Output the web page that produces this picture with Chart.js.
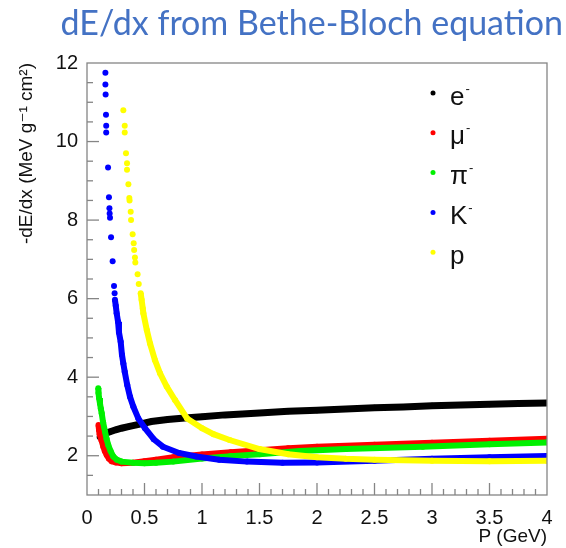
<!DOCTYPE html>
<html lang="en">
<head>
<meta charset="UTF-8" />
<title>dE/dx from Bethe-Bloch equation</title>
<script src="https://cdn.jsdelivr.net/npm/chart.js"></script>
<style>
  body { margin: 0; background: #fff; }
  .wrap { position: relative; width: 566px; height: 548px; }
  canvas { position: absolute; left: 0; top: 0; }
  .titulo {
    position: absolute; top: 0; right: 3px;
    font-family: Lato, "Open Sans", sans-serif; font-size: 34px;
    line-height: 44px; color: #4472c4; white-space: nowrap;
  }
</style>
</head>
<body>
<div class="wrap">
  <canvas id="grafico" width="566" height="548"></canvas>
  <div class="titulo">dE/dx from Bethe-Bloch equation</div>
</div>

<script>
// valores: momento P (GeV) e -dE/dx (MeV g^-1 cm^2)
const particulas = ["e", "\u03bc", "\u03c0", "K", "p"];
const cargas = ["-", "-", "-", "-", ""];
const cores = ["#000000", "#ff0000", "#00f000", "#0000ff", "#ffff00"];

const eP = [0.11, 0.13, 0.16, 0.2, 0.25, 0.3, 0.36, 0.45, 0.56, 0.7, 0.85, 1.0, 1.2, 1.5, 1.75, 2.0, 2.25, 2.5, 2.75, 3.0, 3.25, 3.5, 3.75, 4.0];
const eV = [2.48, 2.53, 2.57, 2.61, 2.66, 2.7, 2.74, 2.8, 2.87, 2.92, 2.96, 2.99, 3.04, 3.09, 3.13, 3.16, 3.19, 3.22, 3.24, 3.27, 3.29, 3.31, 3.33, 3.34];

const muP = [0.1, 0.105, 0.11, 0.125, 0.142, 0.155, 0.171, 0.19, 0.215, 0.25, 0.3, 0.4, 0.5, 0.6, 0.75, 1.0, 1.25, 1.5, 1.75, 2.0, 2.5, 3.0, 3.5, 4.0];
const muV = [2.78, 2.65, 2.55, 2.4, 2.23, 2.12, 2.02, 1.93, 1.86, 1.83, 1.81, 1.82, 1.86, 1.9, 1.96, 2.03, 2.09, 2.14, 2.19, 2.23, 2.28, 2.33, 2.38, 2.43];

const piP = [0.098, 0.1, 0.105, 0.113, 0.12, 0.128, 0.14, 0.157, 0.17, 0.185, 0.205, 0.229, 0.26, 0.3, 0.4, 0.5, 0.6, 0.75, 1.0, 1.25, 1.5, 1.85, 2.25, 2.92, 3.5, 4.0];
const piV = [3.72, 3.6, 3.47, 3.33, 3.2, 3.08, 2.85, 2.61, 2.43, 2.27, 2.12, 1.98, 1.9, 1.85, 1.82, 1.81, 1.82, 1.85, 1.93, 1.99, 2.04, 2.12, 2.17, 2.23, 2.29, 2.34];

const kP = [0.16, 0.16, 0.162, 0.165, 0.167, 0.167, 0.183, 0.191, 0.195, 0.197, 0.2, 0.209, 0.223, 0.235, 0.24, 0.243, 0.25, 0.258, 0.27, 0.278, 0.293, 0.304, 0.316, 0.328, 0.35, 0.374, 0.403, 0.446, 0.504, 0.58, 0.66, 0.8, 0.95, 1.15, 1.39, 1.7, 2.0, 2.5, 3.0, 3.5, 4.0];
const kV = [11.75, 11.45, 11.2, 10.68, 10.4, 10.23, 9.34, 8.58, 8.3, 8.17, 8.06, 7.56, 6.95, 6.32, 6.14, 5.97, 5.82, 5.63, 5.41, 5.14, 4.9, 4.57, 4.35, 4.14, 3.8, 3.5, 3.25, 2.95, 2.7, 2.42, 2.23, 2.07, 1.98, 1.9, 1.85, 1.82, 1.83, 1.87, 1.92, 1.96, 1.99];

const pP = [0.316, 0.328, 0.328, 0.339, 0.348, 0.348, 0.36, 0.368, 0.37, 0.38, 0.383, 0.397, 0.406, 0.41, 0.417, 0.42, 0.44, 0.45, 0.467, 0.475, 0.485, 0.49, 0.52, 0.548, 0.59, 0.635, 0.693, 0.765, 0.87, 1.0, 1.1, 1.24, 1.5, 1.75, 2.0, 2.25, 2.5, 3.0, 3.5, 4.0];
const pV = [10.8, 10.4, 10.23, 9.7, 9.45, 9.28, 8.91, 8.56, 8.5, 8.21, 8.0, 7.64, 7.41, 7.24, 7.05, 6.92, 6.62, 6.37, 6.14, 5.97, 5.75, 5.63, 5.2, 4.86, 4.44, 4.1, 3.76, 3.42, 2.95, 2.7, 2.55, 2.4, 2.17, 2.04, 1.96, 1.92, 1.9, 1.87, 1.86, 1.87];

const xTicks = [0, 0.5, 1, 1.5, 2, 2.5, 3, 3.5, 4];
const yTicks = [2, 4, 6, 8, 10, 12];

const fonte = "'Liberation Sans', Arial, 'DejaVu Sans', sans-serif";

// acima do corte os pontos ficam soltos, sem a linha
function serie(i, P, V, corte, largura) {
  const cor = cores[i];
  return {
    label: particulas[i] + cargas[i],
    data: P.map((p, k) => ({ x: p, y: V[k] })),
    showLine: true,
    borderColor: cor,
    borderWidth: largura,
    backgroundColor: cor,
    pointRadius: 3,
    pointBorderWidth: 0,
    pointHoverRadius: 3,
    order: 5 - i,
    segment: {
      borderColor: ctx => (ctx.p0.parsed.y > corte || ctx.p1.parsed.y > corte) ? "rgba(0,0,0,0)" : cor
    }
  };
}

// moldura do ROOT com marcas para dentro
const moldura = {
  id: "moldura",
  afterDraw(chart) {
    const ctx = chart.ctx;
    const a = chart.chartArea;
    const sx = chart.scales.x;
    const sy = chart.scales.y;
    ctx.save();
    ctx.strokeStyle = "#858585";
    ctx.lineWidth = 1.3;
    ctx.strokeRect(a.left, a.top, a.right - a.left, a.bottom - a.top);
    for (let k = 1; k < 40; k++) {
      const px = sx.getPixelForValue(k / 10);
      const len = k % 5 === 0 ? 12 : 6;
      ctx.beginPath();
      ctx.moveTo(px, a.bottom);
      ctx.lineTo(px, a.bottom - len);
      ctx.stroke();
    }
    for (let k = 3; k < 24; k++) {
      const py = sy.getPixelForValue(k / 2);
      const len = k % 4 === 0 ? 12 : 6;
      ctx.beginPath();
      ctx.moveTo(a.left, py);
      ctx.lineTo(a.left + len, py);
      ctx.stroke();
    }
    ctx.restore();
  }
};

// legenda dentro do quadro
const legenda = {
  id: "legenda",
  afterDraw(chart) {
    const ctx = chart.ctx;
    const a = chart.chartArea;
    ctx.save();
    particulas.forEach((nome, i) => {
      const y = a.top + 30 + 39.8 * i;
      const x = a.right - 114;
      ctx.fillStyle = cores[i];
      ctx.beginPath();
      ctx.arc(x, y, 2.5, 0, Math.PI * 2);
      ctx.fill();
      ctx.fillStyle = "#111";
      ctx.textBaseline = "alphabetic";
      ctx.textAlign = "left";
      ctx.font = "26px " + fonte;
      const base = y + 11.5;
      ctx.fillText(nome, x + 17, base);
      if (cargas[i]) {
        const w = ctx.measureText(nome).width;
        ctx.font = "13px " + fonte;
        ctx.fillText(cargas[i], x + 18 + w, base - 12);
      }
    });
    ctx.restore();
  }
};

const config = {
  type: "scatter",
  data: {
    datasets: [
      serie(0, eP, eV, 99, 7),
      serie(1, muP, muV, 99, 6),
      serie(2, piP, piV, 99, 6),
      serie(3, kP, kV, 6.0, 6),
      serie(4, pP, pV, 6.2, 6)
    ]
  },
  options: {
    responsive: false,
    animation: false,
    layout: { padding: { top: 63, right: 19, left: 0, bottom: 0 } },
    plugins: {
      legend: { display: false },
      tooltip: { enabled: false }
    },
    scales: {
      x: {
        type: "linear",
        min: 0,
        max: 4,
        grid: { display: false, drawTicks: false },
        border: { display: false },
        afterBuildTicks: s => { s.ticks = xTicks.map(v => ({ value: v })); },
        afterFit: s => { s.height = 53; },
        ticks: {
          padding: 11, color: "#111", font: { family: fonte, size: 20 },
          callback: v => String(v)
        },
        title: {
          display: true, text: "P (GeV)", align: "end", color: "#111",
          font: { family: fonte, size: 19 }, padding: { top: 0, bottom: 0 }
        }
      },
      y: {
        type: "linear",
        min: 1,
        max: 12,
        grid: { display: false, drawTicks: false },
        border: { display: false },
        afterBuildTicks: s => { s.ticks = yTicks.map(v => ({ value: v })); },
        afterFit: s => { s.width = 87; },
        ticks: {
          padding: 9, color: "#111", font: { family: fonte, size: 20 },
          callback: v => String(v)
        },
        title: {
          display: true, text: "-dE/dx (MeV g\u207b\u00b9 cm\u00b2)", align: "end", color: "#111",
          font: { family: fonte, size: 19 }, padding: { top: 15, bottom: 0 }
        }
      }
    }
  },
  plugins: [moldura, legenda]
};

const grafico = new Chart(document.getElementById("grafico"), config);
</script>
</body>
</html>
